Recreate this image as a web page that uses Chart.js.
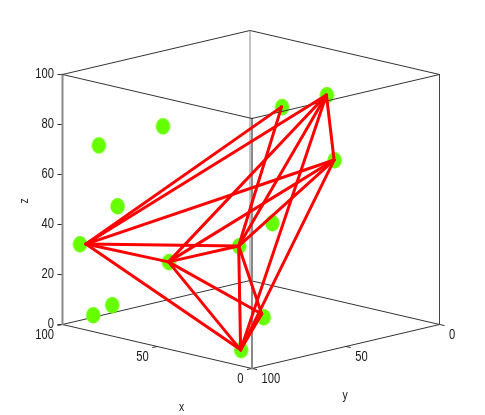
<!DOCTYPE html>
<html>
<head>
<meta charset="utf-8">
<style>html,body{margin:0;padding:0;background:#fff}canvas{display:block}</style>
<script src="https://cdn.jsdelivr.net/npm/chart.js@4"></script>
</head>
<body>
<canvas id="c" width="485" height="415"></canvas>
<script>
// 3D data
const xs = [96, 50, 10, 6, 0, 20, 30, 20, 90, 70, 90, 88, 78, 10];
const ys = [95, 94, 97, 100, 94, 64, 30, 36, 91, 77, 81, 96, 96, 79.3];
const zs = [32, 32.8, 46.7, 6.4, 19.5, 94.8, 91.8, 68.6, 71.9, 80.6, 45.8, 5.2, 11, 52.8];
// network nodes the red links run between
const nodeXs = [92.6, 50, 10, 6, 0, 20, 30, 20];
const nodeYs = [95, 94, 97, 100, 94.8, 64, 30, 36];
const nodeZs = [32.6, 32.8, 46.7, 6.4, 20.9, 94.8, 91.8, 68.6];
// links between nodes (indices into the node arrays)
const edgeFrom = [0,0,0,0,0,0, 1,1,1,1,1, 2,2,2,2,2, 3,3,3, 6];
const edgeTo   = [1,2,3,5,6,7, 2,3,4,6,7, 3,4,5,6,7, 4,6,7, 7];
const xTicks = [0, 50, 100];
const yTicks = [0, 50, 100];
const zTicks = [0, 20, 40, 60, 80, 100];
const xTickLabels = ['0', '50', '100'];
const yTickLabels = ['0', '50', '100'];
const zTickLabels = ['0', '20', '40', '60', '80', '100'];

// orthographic view of the cube
const proj = (x, y, z) => ({
  x: 252 - 1.895 * x + 1.875 * (100 - y),
  y: 368.5 - 0.44 * x - 0.44 * (100 - y) - 2.5 * z
});
const seg = (a, b, color, width) => ({
  type: 'line',
  data: [proj(...a), proj(...b)],
  borderColor: color,
  borderWidth: width,
  pointRadius: 0,
  fill: false,
  tension: 0,
  borderCapStyle: 'round'
});

// slightly tall dot
const dot = document.createElement('canvas');
dot.width = 18; dot.height = 20;
{
  const g = dot.getContext('2d');
  g.fillStyle = '#66ff00';
  g.beginPath();
  g.ellipse(9.5, 10.3, 7.2, 8.2, 0, 0, Math.PI * 2);
  g.fill();
}

const DARK = '#333333', GREY = '#8a8a8a';
const datasets = [];
// first in the list = drawn on top
edgeFrom.forEach((f, i) => {
  const t = edgeTo[i];
  datasets.push(seg([nodeXs[f], nodeYs[f], nodeZs[f]], [nodeXs[t], nodeYs[t], nodeZs[t]], '#ff0000', 3));
});
// front edges of the cube
datasets.push(seg([100,100,100],[0,100,100], DARK, 1));
datasets.push(seg([0,0,100],[0,100,100], DARK, 1));
datasets.push({
  type: 'scatter',
  data: xs.map((x, i) => proj(x, ys[i], zs[i])),
  pointStyle: dot,
  pointRadius: 9,
  showLine: false
});
datasets.push(seg([0,100,0],[0,100,100], GREY, 2));
datasets.push(seg([100,100,0],[100,100,100], GREY, 2));
datasets.push(seg([0,0,0],[0,0,100], '#444444', 1));
datasets.push(seg([100,0,0],[100,0,100], GREY, 1));
datasets.push(seg([100,100,0],[0,100,0], DARK, 1));
datasets.push(seg([0,0,0],[0,100,0], DARK, 1));
datasets.push(seg([100,0,0],[100,100,0], DARK, 1));
datasets.push(seg([100,0,0],[0,0,0], DARK, 1));
datasets.push(seg([100,0,100],[100,100,100], DARK, 1));
datasets.push(seg([100,0,100],[0,0,100], DARK, 1));
// tick marks
zTicks.forEach(z => {
  const p = proj(100, 100, z);
  datasets.push({ type:'line', data:[{x:p.x-5,y:p.y},{x:p.x,y:p.y}], borderColor:DARK, borderWidth:1, pointRadius:0 });
});
xTicks.forEach(v => {
  const p = proj(v, 100, 0);
  datasets.push({ type:'line', data:[{x:p.x,y:p.y},{x:p.x-5,y:p.y+1}], borderColor:DARK, borderWidth:1, pointRadius:0 });
});
yTicks.forEach(v => {
  const p = proj(0, v, 0);
  datasets.push({ type:'line', data:[{x:p.x,y:p.y},{x:p.x+5,y:p.y+1}], borderColor:DARK, borderWidth:1, pointRadius:0 });
});

const labelPlugin = {
  id: 'cubeLabels',
  afterDraw(chart) {
    const c = chart.ctx, sx = chart.scales.x, sy = chart.scales.y;
    const NARROW = 0.8;
    const put = (t, px, py, rot) => {
      c.save();
      c.translate(sx.getPixelForValue(px), sy.getPixelForValue(py));
      if (rot) c.rotate(rot);
      c.scale(NARROW, 1);
      c.fillText(t, 0, 0);
      c.restore();
    };
    c.save();
    c.font = '14px "Liberation Sans", sans-serif';
    c.fillStyle = '#1a1a1a';
    c.textBaseline = 'middle';
    c.textAlign = 'right';
    zTicks.forEach((z, i) => {
      const p = proj(100, 100, z);
      put(zTickLabels[i], p.x - 8.5, p.y - 0.5);
    });
    xTicks.forEach((v, i) => {
      const p = proj(v, 100, 0);
      put(xTickLabels[i], p.x - 8.5, p.y + 10.8);
    });
    c.textAlign = 'left';
    yTicks.forEach((v, i) => {
      const p = proj(0, v, 0);
      put(yTickLabels[i], p.x + 9.5, p.y + 10.2);
    });
    c.textAlign = 'center';
    c.font = '13px "Liberation Sans", sans-serif';
    put('x', 181.7, 407);
    put('y', 345, 395.5);
    put('z', 24, 201, -Math.PI / 2);
    c.restore();
  }
};

new Chart(document.getElementById('c'), {
  type: 'scatter',
  data: { datasets },
  plugins: [labelPlugin],
  options: {
    responsive: false,
    animation: false,
    layout: { padding: 0, autoPadding: false },
    plugins: { legend: { display: false }, tooltip: { enabled: false } },
    scales: {
      x: { type: 'linear', min: 0, max: 485, display: false },
      y: { type: 'linear', min: 0, max: 415, reverse: true, display: false }
    }
  }
});
</script>
</body>
</html>
